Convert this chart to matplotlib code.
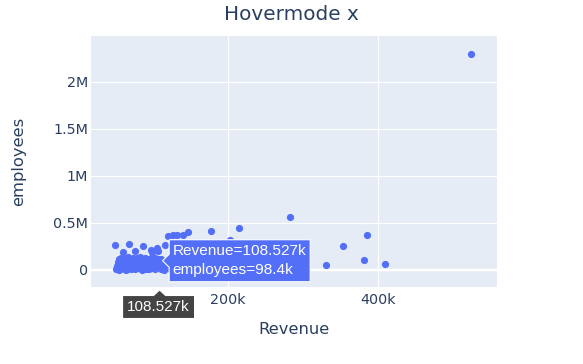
import matplotlib
matplotlib.use('Agg')
import matplotlib.pyplot as plt
import matplotlib.transforms as transforms
from matplotlib.patches import Polygon

plt.rcParams['font.family'] = ['DejaVu Sans']

# revenue (in $M) and employees
revenue = [523964, 283000, 331000, 353000, 385000, 381000, 409000, 214000,
           177000, 147000, 132000, 140000, 120000, 126000, 203000, 116000,
           105000, 98000, 49000, 68000, 87000, 97000, 107000, 60000, 76000,
           51000, 52000, 53000, 54000, 55000, 56000, 57000, 58000, 59000,
           60000, 61000, 62000, 63000, 64000, 65000, 66000, 67000, 68000,
           69000, 70000, 71000, 72000, 73000, 74000, 75000, 76000, 77000,
           78000, 79000, 80000, 81000, 82000, 83000, 84000, 85000, 86000,
           87000, 88000, 89000, 90000, 91000, 92000, 93000, 94000, 95000,
           96000, 97000, 98000, 99000, 100000, 101000, 102000, 103000,
           104000, 105000, 106000, 107000, 108527, 109000, 110000, 111000,
           112000, 114000, 115000, 117000, 118000, 120000, 122000, 124000,
           128000, 133000, 137000, 145000, 152000]
employees = [2300000, 560000, 50000, 250000, 370000, 110000, 60000, 450000,
             410000, 400000, 370000, 370000, 365000, 372000, 320000, 270000,
             230000, 190000, 270000, 280000, 255000, 210000, 200000, 190000,
             200000,
             10000, 40000, 80000, 120000, 5000, 60000, 130000, 25000, 95000,
             125000, 15000, 70000, 110000, 3000, 45000, 135000, 115000, 20000,
             85000, 55000, 12000, 100000, 130000, 35000, 70000, 8000, 120000,
             50000, 125000, 18000, 90000, 60000, 135000, 30000, 4000, 110000,
             75000, 45000, 130000, 15000, 95000, 120000, 58000, 25000, 6000,
             85000, 125000, 40000, 110000, 20000, 65000, 130000, 10000,
             90000, 45000, 120000, 30000, 98400, 60000, 15000, 115000,
             80000, 40000, 5000, 100000, 55000, 20000, 70000, 35000,
             10000, 50000, 25000, 60000, 15000]

hover_x, hover_y = 108527, 98400
xticks = [200000, 400000]
xticklabels = ['200k', '400k']
yticks = [0, 500000, 1000000, 1500000, 2000000]
yticklabels = ['0', '0.5M', '1M', '1.5M', '2M']

txt = '#2a3f5f'
blue = '#546ff7'

fig = plt.figure(figsize=(5.83, 3.64), dpi=100)
ax = fig.add_axes([91/583, 1 - 287/364, 406/583, 251/364])
ax.set_facecolor('#e5ecf6')
for s in ax.spines.values():
    s.set_visible(False)

ax.set_xlim(17000, 559000)
ax.set_ylim(-181000, 2489000)
ax.set_xticks(xticks)
ax.set_xticklabels(xticklabels)
ax.set_yticks(yticks)
ax.set_yticklabels(yticklabels)
ax.tick_params(length=0, labelsize=10.3, labelcolor=txt)
ax.tick_params(axis='x', pad=4)
ax.tick_params(axis='y', pad=2)
ax.grid(True, color='white', lw=0.9)
ax.set_axisbelow(True)
ax.axhline(0, color='white', lw=1.7, zorder=1)

ax.scatter(revenue, employees, s=27, color=blue, linewidths=0, zorder=3)

ax.set_xlabel('Revenue', fontsize=11.8, color=txt, va='center')
ax.xaxis.set_label_coords(0.5, (287 - 330) / 251)
ax.set_ylabel('employees', fontsize=11.8, color=txt, va='center')
ax.yaxis.set_label_coords((19 - 91) / 406, 0.5)
fig.text(0.5, 1 - 14/364, 'Hovermode x', ha='center', va='center',
         fontsize=14.4, color=txt)

# hover label next to the point (offsets in inches at 100 dpi)
trans = fig.dpi_scale_trans + transforms.ScaledTranslation(hover_x, hover_y, ax.transData)
box = Polygon([(0.03, 0), (0.096, 0.065), (0.096, 0.21), (1.506, 0.21),
               (1.506, -0.21), (0.096, -0.21), (0.096, -0.065)],
              closed=True, transform=trans, fc=blue, ec='white', lw=0.8,
              clip_on=False, zorder=5)
ax.add_patch(box)
ax.annotate('Revenue=108.527k\nemployees=98.4k', xy=(hover_x, hover_y),
            xytext=(13, 0), textcoords='offset pixels', ha='left', va='center',
            fontsize=11.1, color='white', linespacing=1.45, zorder=6,
            family='Liberation Sans', annotation_clip=False)

# spike label on the x axis
bl = transforms.blended_transform_factory(ax.transData, ax.transAxes)
trans2 = fig.dpi_scale_trans + transforms.ScaledTranslation(hover_x, 0, bl)
tag = Polygon([(0, -0.03), (0.06, -0.085), (0.35, -0.085), (0.35, -0.315),
               (-0.37, -0.315), (-0.37, -0.085), (-0.06, -0.085)],
              closed=True, transform=trans2, fc='#444444', ec='white', lw=0.8,
              clip_on=False, zorder=5)
ax.add_patch(tag)
ax.annotate('108.527k', xy=(hover_x, 0), xycoords=bl,
            xytext=(-1, -20), textcoords='offset pixels', ha='center', va='center',
            fontsize=11, color='white', zorder=6, family='Liberation Sans',
            annotation_clip=False)

fig.savefig('out.png', dpi=100)
